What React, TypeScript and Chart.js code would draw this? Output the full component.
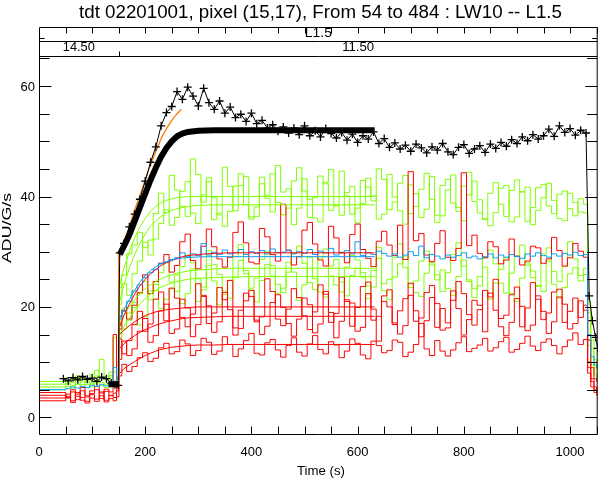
import React, { useEffect, useRef } from "react";
import { Chart, registerables } from "chart.js";

Chart.register(...registerables);

// ---------- data ----------
const TIME = [
  0, 46, 55, 64, 73, 82, 91, 100, 109, 118, 127, 136, 143, 149, 152,
  160, 170, 180, 190, 200, 210, 220, 230, 240, 250,
  260, 270, 280, 290, 300, 310, 320, 330, 340, 350,
  360, 370, 380, 390, 400, 410, 420, 430, 440, 450,
  460, 470, 480, 490, 500, 510, 520, 530, 540, 550,
  560, 570, 580, 590, 600, 610, 620, 630, 640, 650,
  660, 670, 680, 690, 700, 710, 720, 730, 740, 750,
  760, 770, 780, 790, 800, 810, 820, 830, 840, 850,
  860, 870, 880, 890, 900, 910, 920, 930, 940, 950,
  960, 970, 980, 990, 1000, 1010, 1020, 1030,
  1036, 1042, 1048, 1052,
];

const BLACK_DATA = [
  null, 7.0, 6.6, 7.2, 6.8, 7.4, 6.9, 7.1, 6.5, 7.3, 7.0, 6.2, 5.9, 5.8, 29.8,
  31.5, 34.5, 36.8, 39.5, 42.8, 46.2, 49.0, 52.8, 55.2, 56.3,
  59.0, 57.6, 59.8, 58.2, 56.4, 59.6, 57.0, 55.8, 57.3, 55.1,
  56.2, 54.3, 54.9, 53.6, 55.1, 53.2, 53.8, 52.4, 53.0, 51.8,
  52.6, 51.5, 52.4, 51.2, 52.8, 51.0, 51.9, 50.8, 52.3, 51.4,
  50.6, 51.6, 50.2, 51.3, 49.8, 51.0, 50.4, 51.7, 49.6, 50.5,
  48.9, 49.7, 48.6, 49.3, 48.2, 49.5, 48.8, 47.9, 49.0, 48.4,
  49.6, 48.1, 47.6, 48.9, 49.4, 47.8, 48.6, 49.2, 48.0, 49.5,
  48.7, 49.8, 49.1, 50.3, 49.6, 50.8, 50.1, 51.2, 50.4, 51.0,
  52.2, 50.9, 52.8, 51.6, 52.3, 51.1, 52.0, 51.5,
  22.0, 17.5, 14.5, 12.5,
];

const GREEN_1 = [
  6.5, 6.5, 7.2, 6.8, 7.5, 7.0, 6.6, 7.8, 8.5, 7.2, 6.9, 7.6, 8.2, 7.0, 23.5,
  25.8, 29.6, 31.2, 33.5, 30.8, 32.1, 36.9, 40.6, 37.1, 43.8,
  41.2, 38.2, 36.4, 46.8, 44.0, 39.0, 42.7, 35.8, 37.0, 45.3,
  41.8, 37.4, 42.0, 43.6, 36.3, 38.1, 43.5, 40.2, 44.1, 38.9,
  36.7, 37.9, 42.8, 45.2, 41.0, 36.2, 39.8, 43.7, 42.3, 37.5,
  38.4, 44.6, 40.1, 36.8, 37.9, 42.9, 41.7, 39.2, 45.0, 43.1,
  37.6, 39.0, 42.4, 43.8, 36.9, 38.2, 41.3, 44.2, 39.5, 36.6,
  42.0, 43.1, 38.8, 37.3, 41.9, 44.4, 39.1, 37.0, 35.8, 40.6,
  42.5, 38.6, 36.4, 41.1, 43.0, 40.8, 35.5, 38.0, 41.6, 42.2,
  38.3, 36.9, 40.4, 41.0, 37.8, 36.5, 39.6, 38.6,
  21.0, 14.0, 10.5, 9.5,
];

const GREEN_2 = [
  6.0, 6.0, 6.6, 6.3, 7.1, 6.4, 6.9, 6.2, 7.5, 10.5, 6.8, 7.3, 6.5, 7.4, 20.5,
  24.2, 22.1, 26.0, 28.3, 31.7, 29.4, 32.3, 35.1, 37.6, 34.8,
  36.2, 40.9, 42.7, 37.0, 35.1, 40.3, 43.4, 39.8, 36.7, 34.6,
  37.3, 41.9, 44.1, 38.5, 35.9, 36.4, 42.3, 39.7, 37.2, 45.6,
  40.8, 41.4, 34.9, 37.9, 43.2, 39.5, 36.1, 35.4, 42.6, 44.9,
  38.3, 36.6, 40.7, 41.8, 35.2, 38.7, 43.3, 40.1, 35.9, 36.8,
  44.0, 39.9, 37.4, 35.0, 42.1, 40.5, 36.2, 37.7, 43.6, 35.3,
  36.5, 41.2, 43.9, 38.0, 35.6, 40.3, 42.8, 39.4, 36.0, 34.7,
  37.1, 41.5, 42.0, 35.4, 36.3, 40.9, 41.7, 34.9, 37.5, 39.8,
  42.4, 39.3, 36.0, 35.6, 40.6, 38.9, 37.2, 37.0,
  19.0, 12.5, 9.0, 8.5,
];

const GREEN_3 = [
  5.5, 5.5, 6.1, 5.8, 6.6, 5.9, 6.4, 6.0, 7.2, 6.3, 6.0, 8.2, 14.5, 6.5, 16.5,
  19.8, 17.6, 19.9, 22.4, 24.6, 21.3, 23.0, 26.2, 28.1, 24.5,
  22.8, 27.3, 29.4, 28.0, 25.1, 23.6, 30.2, 27.7, 25.9, 22.9,
  24.8, 29.1, 31.3, 26.0, 23.4, 25.2, 28.6, 30.0, 27.5, 24.1,
  22.6, 26.3, 29.7, 31.0, 27.9, 24.4, 23.1, 28.8, 30.5, 25.6,
  24.0, 22.7, 27.2, 29.3, 28.5, 25.4, 23.8, 26.6, 30.8, 24.2,
  25.0, 29.0, 31.4, 27.1, 23.5, 24.7, 28.3, 30.1, 27.6, 25.8,
  22.8, 26.2, 29.5, 31.6, 27.4, 24.9, 23.3, 25.5, 28.9, 30.3,
  27.8, 24.3, 22.5, 26.1, 29.2, 31.2, 28.0, 25.3, 23.7, 29.6,
  30.7, 26.4, 24.6, 27.3, 31.8, 28.7, 25.7, 27.0,
  14.0, 10.0, 8.0, 7.5,
];

const GREEN_4 = [
  5.0, 5.0, 5.6, 5.3, 6.0, 5.4, 5.9, 5.5, 6.3, 5.7, 5.4, 6.1, 5.8, 6.2, 14.5,
  16.0, 18.9, 20.8, 16.7, 18.2, 22.9, 24.1, 19.7, 21.4, 23.3,
  25.8, 20.6, 22.4, 26.9, 21.0, 23.1, 27.5, 24.7, 20.4, 22.2,
  21.6, 25.3, 28.4, 26.6, 23.0, 20.9, 24.8, 27.7, 25.6, 22.5,
  23.4, 28.1, 26.3, 21.2, 24.0, 29.0, 25.1, 22.7, 21.8, 27.4,
  28.6, 24.5, 22.0, 25.7, 27.0, 26.2, 21.5, 23.6, 28.8, 22.9,
  21.3, 25.4, 27.8, 29.2, 24.2, 22.6, 21.9, 26.1, 28.0, 24.9,
  26.7, 23.3, 22.1, 25.5, 28.5, 24.6, 21.7, 23.8, 27.2, 21.4,
  24.3, 26.8, 28.9, 22.4, 21.0, 25.2, 27.6, 26.5, 23.9, 22.8,
  28.3, 24.1, 21.6, 23.5, 26.0, 27.1, 24.7, 25.9,
  13.0, 9.5, 7.5, 7.0,
];

const BLUE_DATA = [
  5.0, 5.0, 5.2, 5.5, 5.3, 5.6, 5.4, 5.8, 5.6, 5.9, 5.7, 6.2, 9.0, 6.0, 17.8,
  19.2, 21.0, 22.9, 24.0, 25.3, 26.2, 26.8, 27.9, 28.1, 28.6,
  28.9, 29.8, 29.1, 29.6, 29.3, 31.5, 29.4, 29.9, 29.5, 30.3,
  29.6, 29.8, 30.4, 29.5, 30.0, 29.7, 30.2, 29.6, 30.5, 29.8,
  29.9, 30.3, 29.6, 30.0, 29.7, 30.4, 29.5, 30.1, 29.8, 30.6,
  29.4, 29.9, 30.2, 29.6, 31.8, 29.3, 29.8, 29.5, 30.1, 29.7,
  29.2, 29.6, 29.0, 29.4, 30.0, 29.3, 31.0, 28.9, 29.5, 29.2,
  28.7, 29.4, 29.0, 29.3, 29.8, 28.9, 29.2, 28.7, 29.1, 29.6,
  28.9, 29.4, 29.0, 29.5, 29.1, 28.8, 29.6, 29.2, 29.8, 29.3,
  29.0, 29.6, 29.2, 29.7, 29.4, 29.9, 29.3, 29.5,
  15.0, 11.0, 9.5, 9.0,
];

const RED_1 = [
  4.5, 4.5, 3.8, 5.0, 4.2, 5.4, 3.9, 4.8, 5.6, 4.4, 5.1, 4.6, 15.0, 7.0, 16.0,
  19.4, 17.8, 20.3, 22.6, 25.8, 22.4, 24.6, 27.9, 29.5, 26.3,
  27.5, 31.8, 33.2, 28.4, 26.9, 31.0, 34.1, 30.9, 28.7, 27.2,
  29.0, 33.5, 35.4, 31.6, 28.1, 27.8, 34.2, 32.7, 29.5, 28.3,
  38.6, 30.2, 27.6, 29.1, 33.9, 35.3, 31.4, 28.5, 27.4, 34.6,
  32.5, 29.8, 28.0, 33.1, 35.0, 30.4, 28.8, 27.3, 31.9, 33.7,
  31.2, 29.3, 34.8, 28.6, 44.5, 32.0, 33.3, 29.4, 28.2, 31.5,
  33.8, 29.0, 28.4, 30.6, 44.3, 31.1, 33.0, 29.7, 28.9, 31.8,
  30.9, 27.8, 28.5, 32.3, 29.2, 27.6, 28.3, 31.0, 30.7, 27.9,
  28.7, 32.6, 30.2, 27.4, 28.9, 31.5, 30.1, 29.0,
  14.0, 9.0, 7.0, 6.5,
];

const RED_2 = [
  4.0, 4.0, 3.5, 4.6, 3.2, 4.8, 3.7, 4.3, 5.0, 3.4, 4.7, 3.9, 4.4, 5.5, 14.2,
  11.5, 13.9, 16.8, 19.2, 15.6, 16.9, 21.4, 22.7, 17.5, 23.4,
  21.6, 18.1, 16.4, 18.7, 24.2, 22.1, 17.0, 18.9, 23.5, 21.3,
  24.8, 16.2, 19.4, 22.5, 21.9, 17.3, 18.2, 25.1, 22.8, 17.8,
  16.6, 19.6, 23.3, 21.7, 18.4, 15.9, 19.1, 24.0, 22.3, 17.2,
  18.8, 25.4, 21.0, 16.5, 19.9, 23.7, 24.5, 17.6, 18.3, 22.0,
  23.1, 16.8, 19.3, 21.5, 24.3, 17.4, 18.0, 22.6, 23.9, 16.3,
  19.7, 17.1, 21.2, 24.6, 22.4, 18.6, 16.7, 19.5, 23.0, 21.8,
  25.0, 17.9, 18.5, 22.2, 23.6, 16.4, 19.8, 24.4, 21.4, 17.7,
  18.9, 22.7, 23.2, 17.2, 19.2, 21.6, 18.1, 20.3,
  10.0, 7.0, 5.5, 5.0,
];

const RED_3 = [
  3.5, 3.5, 4.2, 3.0, 4.5, 3.6, 2.9, 4.1, 3.3, 4.6, 3.1, 4.0, 3.6, 4.8, 10.5,
  13.8, 11.2, 12.4, 15.6, 17.9, 13.6, 14.8, 19.3, 20.5, 15.2,
  16.0, 21.4, 19.8, 14.6, 16.8, 21.9, 20.2, 15.4, 17.3, 22.6,
  19.5, 14.9, 16.1, 21.1, 23.0, 17.6, 15.0, 16.5, 20.8, 22.2,
  19.9, 17.0, 14.7, 17.8, 21.6, 20.4, 15.3, 16.9, 22.8, 19.0,
  14.4, 17.4, 21.3, 20.7, 15.6, 16.3, 22.4, 19.6, 13.8, 21.0,
  20.0, 17.1, 15.1, 16.6, 22.1, 19.3, 14.6, 17.5, 21.7, 20.6,
  15.8, 16.2, 22.9, 19.7, 14.9, 17.7, 21.2, 20.3, 15.5, 22.5,
  19.4, 16.4, 14.8, 17.2, 21.5, 20.1, 15.7, 16.7, 22.0, 19.2,
  15.2, 17.3, 21.8, 20.5, 16.0, 17.0, 21.1, 19.4,
  9.0, 6.5, 5.0, 4.5,
];

const RED_4 = [
  3.0, 3.0, 3.6, 2.7, 3.8, 3.1, 2.6, 3.5, 2.9, 3.9, 2.8, 3.4, 3.0, 3.7, 7.5,
  9.6, 8.3, 9.2, 10.8, 11.7, 10.1, 10.7, 12.6, 13.4, 11.5,
  11.9, 14.0, 13.3, 11.2, 12.1, 14.3, 13.6, 11.4, 12.0, 14.6,
  13.2, 11.0, 12.4, 13.9, 15.2, 11.6, 11.3, 13.5, 14.1, 12.2,
  10.9, 13.0, 14.4, 11.8, 11.1, 13.3, 14.8, 12.3, 11.5, 13.7,
  13.1, 10.8, 12.0, 14.2, 13.4, 11.3, 10.6, 13.8, 13.0, 11.7,
  12.1, 14.0, 13.6, 11.0, 11.8, 13.2, 17.0, 12.4, 11.2, 13.9,
  12.0, 11.1, 12.2, 13.5, 14.6, 11.9, 12.5, 13.1, 14.3, 12.0,
  12.6, 13.7, 14.5, 11.8, 12.3, 13.4, 14.7, 12.9, 12.1, 13.6,
  14.2, 13.0, 11.5, 12.8, 14.0, 15.3, 13.2, 14.1,
  8.0, 5.5, 4.5, 4.0,
];

// fitted models
const FIT_TIME = [152, 160, 170, 180, 190, 200, 210, 220, 230, 240, 250, 260, 270, 280, 300, 330, 360, 400, 450, 500, 550, 632];
const FIT_BLACK = [29.5, 31, 33, 35.5, 38, 40.5, 43, 45.2, 47.2, 48.8, 50, 50.9, 51.4, 51.7, 51.9, 52, 52, 52, 52, 52, 52, 52];
const FIT_GREEN_1 = [24, 27, 30, 32.5, 34.5, 36, 37.3, 38.2, 38.9, 39.3, 39.6, 39.8, 39.9, 40, 40, 40, 40, 40, 40, 40, 40, 40];
const FIT_GREEN_2 = [21, 24, 27, 29.5, 31.5, 33.2, 34.6, 35.6, 36.4, 37, 37.5, 37.8, 38, 38.2, 38.4, 38.5, 38.5, 38.5, 38.5, 38.5, 38.5, 38.5];
const FIT_GREEN_3 = [17, 18.5, 20, 21.3, 22.4, 23.3, 24, 24.6, 25.1, 25.5, 25.8, 26.1, 26.3, 26.5, 26.7, 26.9, 27, 27, 27, 27, 27, 27];
const FIT_GREEN_4 = [15, 16.5, 18, 19.3, 20.5, 21.5, 22.3, 23, 23.6, 24, 24.3, 24.6, 24.8, 25, 25.2, 25.3, 25.4, 25.5, 25.5, 25.5, 25.5, 25.5];
const FIT_BLUE = [18, 19.5, 21.3, 23, 24.5, 25.7, 26.6, 27.3, 27.8, 28.2, 28.5, 28.7, 28.85, 28.95, 29.05, 29.1, 29.1, 29.1, 29.1, 29.1, 29.1, 29.1];
const FIT_RED_1 = [16.5, 18.5, 20.5, 22.3, 23.8, 25, 26, 26.8, 27.5, 28, 28.4, 28.8, 29.1, 29.3, 29.5, 29.7, 29.8, 29.8, 29.8, 29.8, 29.8, 29.8];
const FIT_RED_2 = [15, 15.8, 16.6, 17.3, 17.9, 18.4, 18.8, 19.1, 19.3, 19.5, 19.6, 19.7, 19.8, 19.9, 20, 20, 20, 20, 20, 20, 20, 20];
const FIT_RED_3 = [12.5, 13.3, 14.1, 14.8, 15.4, 15.9, 16.3, 16.7, 17, 17.3, 17.5, 17.7, 17.9, 18, 18.1, 18.2, 18.3, 18.3, 18.3, 18.3, 18.3, 18.3];
const FIT_RED_4 = [8, 8.8, 9.5, 10.1, 10.7, 11.2, 11.6, 12, 12.3, 12.5, 12.7, 12.8, 12.9, 13, 13.1, 13.1, 13.2, 13.2, 13.2, 13.2, 13.2, 13.2];

const PRE_FIT_TIME = [131, 150];
const PRE_FIT_BLACK = [6.0, 6.0];

const ORANGE_TIME = [133, 150, 150, 160, 170, 180, 190, 200, 210, 220, 230, 240, 250, 260, 268];
const ORANGE_FIT = [5.8, 5.8, 29.5, 32, 34.5, 37.5, 40.2, 43, 45.8, 48.2, 50.5, 52.3, 53.8, 55, 55.8];

// axes / labels
const TITLE = "tdt 02201001, pixel (15,17), From 54 to 484 : LW10 -- L1.5";
const X_TITLE = "Time (s)";
const Y_TITLE = "ADU/G/s";
const X_LABELS = [0, 200, 400, 600, 800, 1000];
const Y_LABELS = [0, 20, 40, 60];
const X_MIN = 0;
const X_MAX = 1052;
const Y_MIN = -3.2;
const Y_MAX = 65.45;
const BAND_TITLE = "L1.5";
const FILTER_EDGES = [0, 150, 1052];
const FILTER_NAMES = ["14.50", "11.50"];

// ---------- colours ----------
const C_BLACK = "#000000";
const C_GREEN = "#7fff00";
const C_RED = "#ff0000";
const C_BLUE = "#0a9cf5";
const C_ORANGE = "#ff7800";
const FONT = '"Liberation Sans", Arial, sans-serif';

const pts = (xs: number[], ys: (number | null)[]) => xs.map((x, i) => ({ x, y: ys[i] }));

const noisy = (ys: (number | null)[], color: string) => ({
  data: pts(TIME, ys),
  borderColor: color,
  borderWidth: 1,
  pointRadius: 0,
  stepped: "middle" as const,
  fill: false,
});

const fit = (xs: number[], ys: number[], color: string, width = 1) => ({
  data: pts(xs, ys),
  borderColor: color,
  borderWidth: width,
  pointRadius: 0,
  tension: 0,
  fill: false,
});

function drawFitted(ctx: CanvasRenderingContext2D, text: string, cx: number, cy: number, size: number, width: number, rotate = false) {
  ctx.save();
  ctx.translate(cx, cy);
  if (rotate) ctx.rotate(-Math.PI / 2);
  ctx.font = `${size}px ${FONT}`;
  const w = ctx.measureText(text).width;
  ctx.scale(width / w, 1);
  ctx.textAlign = "center";
  ctx.textBaseline = "middle";
  ctx.fillStyle = "#000";
  ctx.fillText(text, 0, 0);
  ctx.restore();
}

const framePlugin = {
  id: "idlFrame",
  afterDraw(chart: any) {
    const { ctx, chartArea: ca, scales } = chart;
    const xs = scales.x;
    const ys = scales.y;
    const L = ca.left + 0.5;
    const R = ca.right - 0.5;
    const T = ca.top + 0.5;
    const B = ca.bottom - 0.5;
    const bandTop = 27.5;
    const bandMid = 41.5;
    ctx.save();
    ctx.strokeStyle = "#000";
    ctx.lineWidth = 1;
    ctx.beginPath();
    ctx.moveTo(L, bandTop); ctx.lineTo(L, B);
    ctx.moveTo(R, bandTop); ctx.lineTo(R, B);
    ctx.moveTo(L, B); ctx.lineTo(R, B);
    ctx.moveTo(L, T); ctx.lineTo(R, T);
    ctx.moveTo(L, bandTop); ctx.lineTo(R, bandTop);
    ctx.moveTo(L, bandMid); ctx.lineTo(R, bandMid);
    ctx.moveTo(L, 38.5); ctx.lineTo(L + 5, 38.5);
    ctx.moveTo(R, 38.5); ctx.lineTo(R - 5, 38.5);
    for (let v = 50; v < X_MAX; v += 50) {
      const px = Math.round(xs.getPixelForValue(v)) + 0.5;
      ctx.moveTo(px, B); ctx.lineTo(px, B - 8);
      ctx.moveTo(px, bandTop); ctx.lineTo(px, bandTop + 6);
    }
    for (let i = 1; i < FILTER_EDGES.length - 1; i++) {
      const px = Math.round(xs.getPixelForValue(FILTER_EDGES[i])) + 0.5;
      ctx.moveTo(px, T); ctx.lineTo(px, T - 5);
    }
    for (let v = 0; v <= Y_MAX; v += 5) {
      const py = Math.round(ys.getPixelForValue(v)) + 0.5;
      const len = v % 20 === 0 ? 12 : 10;
      ctx.moveTo(L, py); ctx.lineTo(L + len, py);
      ctx.moveTo(R, py); ctx.lineTo(R - len, py);
    }
    ctx.stroke();

    ctx.fillStyle = "#000";
    ctx.font = `13px ${FONT}`;
    ctx.textBaseline = "middle";
    ctx.textAlign = "right";
    for (const v of Y_LABELS) {
      ctx.fillText(String(v), 35, ys.getPixelForValue(v) + 1);
    }
    ctx.textAlign = "center";
    for (const v of X_LABELS) {
      ctx.fillText(String(v), xs.getPixelForValue(v), 452);
    }

    drawFitted(ctx, TITLE, 320.5, 13.5, 18, 483);
    drawFitted(ctx, X_TITLE, 321, 471, 13, 48);
    drawFitted(ctx, Y_TITLE, 7.5, 228, 13, 70, true);
    drawFitted(ctx, BAND_TITLE, (ca.left + ca.right) / 2, 33, 13, 27);
    for (let i = 0; i < FILTER_NAMES.length; i++) {
      const cx = (xs.getPixelForValue(FILTER_EDGES[i]) + xs.getPixelForValue(FILTER_EDGES[i + 1])) / 2;
      drawFitted(ctx, FILTER_NAMES[i], cx, 47.5, 13, 32);
    }
    ctx.restore();
  },
};

export default function App() {
  const ref = useRef<HTMLCanvasElement>(null);

  useEffect(() => {
    const canvas = ref.current;
    if (!canvas) return;
    const datasets: any[] = [
      fit(FIT_TIME, FIT_BLACK, C_BLACK, 6),
      fit(PRE_FIT_TIME, PRE_FIT_BLACK, C_BLACK, 6),
      {
        data: pts(TIME, BLACK_DATA),
        borderColor: C_BLACK,
        borderWidth: 1,
        tension: 0,
        pointStyle: "cross",
        pointRadius: 4,
        pointBorderWidth: 1.3,
        pointBorderColor: C_BLACK,
        fill: false,
      },
      fit(ORANGE_TIME, ORANGE_FIT, C_ORANGE, 1.3),
      fit(FIT_TIME, FIT_BLUE, C_BLUE),
      fit(FIT_TIME, FIT_RED_1, C_RED),
      fit(FIT_TIME, FIT_RED_2, C_RED),
      fit(FIT_TIME, FIT_RED_3, C_RED),
      fit(FIT_TIME, FIT_RED_4, C_RED),
      fit(FIT_TIME, FIT_GREEN_1, C_GREEN),
      fit(FIT_TIME, FIT_GREEN_2, C_GREEN),
      fit(FIT_TIME, FIT_GREEN_3, C_GREEN),
      fit(FIT_TIME, FIT_GREEN_4, C_GREEN),
      noisy(BLUE_DATA, C_BLUE),
      noisy(RED_1, C_RED),
      noisy(RED_2, C_RED),
      noisy(RED_3, C_RED),
      noisy(RED_4, C_RED),
      noisy(GREEN_1, C_GREEN),
      noisy(GREEN_2, C_GREEN),
      noisy(GREEN_3, C_GREEN),
      noisy(GREEN_4, C_GREEN),
    ];
    const chart = new Chart(canvas, {
      type: "line",
      data: { datasets },
      options: {
        responsive: false,
        animation: false,
        devicePixelRatio: 1,
        events: [],
        layout: { padding: { left: 39, right: 1, top: 56, bottom: 45 } },
        scales: {
          x: { type: "linear", min: X_MIN, max: X_MAX, display: false },
          y: { type: "linear", min: Y_MIN, max: Y_MAX, display: false },
        },
        plugins: { legend: { display: false }, tooltip: { enabled: false }, title: { display: false } },
      },
      plugins: [framePlugin],
    } as any);
    return () => chart.destroy();
  }, []);

  return (
    <div style={{ position: "absolute", left: 0, top: 0, width: 603, height: 480, background: "#fff" }}>
      <canvas ref={ref} width={603} height={480} style={{ display: "block", width: 603, height: 480 }} />
    </div>
  );
}
